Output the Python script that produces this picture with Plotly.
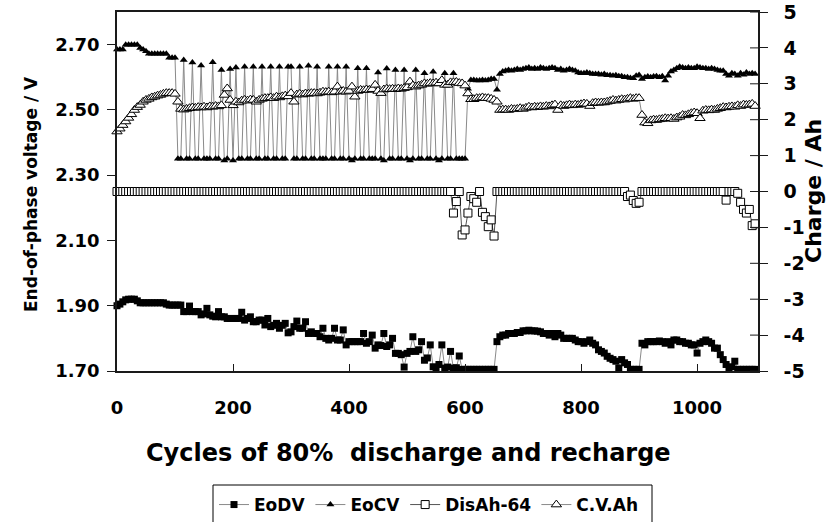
import plotly.graph_objects as go

# Cycle numbers at which the phase-end readings were logged (every 5 cycles)
cycles = list(range(0, 1101, 5))

# End-of-discharge voltage (V)
eodv = [
    1.900, 1.905, 1.912, 1.918, 1.920, 1.920, 1.920, 1.915, 1.909, 1.909,
    1.909, 1.909, 1.909, 1.909, 1.909, 1.909, 1.909, 1.905, 1.902, 1.902,
    1.902, 1.902, 1.902, 1.882, 1.882, 1.899, 1.882, 1.882, 1.882, 1.872,
    1.875, 1.892, 1.872, 1.868, 1.866, 1.882, 1.866, 1.866, 1.861, 1.861,
    1.861, 1.861, 1.861, 1.880, 1.856, 1.861, 1.866, 1.851, 1.851, 1.856,
    1.856, 1.841, 1.861, 1.836, 1.840, 1.846, 1.831, 1.840, 1.846, 1.817,
    1.820, 1.836, 1.853, 1.831, 1.831, 1.851, 1.815, 1.820, 1.815, 1.815,
    1.805, 1.831, 1.800, 1.795, 1.800, 1.831, 1.795, 1.795, 1.826, 1.780,
    1.790, 1.790, 1.790, 1.790, 1.790, 1.815, 1.785, 1.790, 1.810, 1.770,
    1.780, 1.778, 1.815, 1.775, 1.780, 1.800, 1.754, 1.754, 1.750, 1.712,
    1.754, 1.760, 1.805, 1.760, 1.765, 1.790, 1.733, 1.740, 1.780, 1.713,
    1.710, 1.720, 1.780, 1.709, 1.712, 1.760, 1.709, 1.710, 1.746, 1.705,
    1.705, 1.705, 1.705, 1.705, 1.705, 1.705, 1.705, 1.705, 1.705, 1.705,
    1.705, 1.790, 1.805, 1.810, 1.810, 1.815, 1.815, 1.815, 1.818, 1.818,
    1.823, 1.823, 1.825, 1.823, 1.823, 1.822, 1.820, 1.815, 1.815, 1.810,
    1.815, 1.805, 1.815, 1.810, 1.800, 1.800, 1.800, 1.800, 1.795, 1.790,
    1.790, 1.785, 1.790, 1.795, 1.785, 1.780, 1.765, 1.760, 1.755, 1.745,
    1.739, 1.735, 1.730, 1.709, 1.735, 1.725, 1.720, 1.705, 1.705, 1.705,
    1.705, 1.785, 1.780, 1.790, 1.790, 1.790, 1.790, 1.792, 1.790, 1.785,
    1.790, 1.780, 1.795, 1.795, 1.790, 1.790, 1.785, 1.785, 1.780, 1.780,
    1.755, 1.785, 1.790, 1.795, 1.790, 1.785, 1.770, 1.770, 1.750, 1.735,
    1.720, 1.705, 1.713, 1.730, 1.705, 1.705, 1.705, 1.705, 1.705, 1.705,
    1.705,
]

# End-of-charge voltage (V)
eocv = [
    2.685, 2.685, 2.685, 2.700, 2.700, 2.700, 2.700, 2.700, 2.690, 2.685,
    2.680, 2.672, 2.672, 2.672, 2.672, 2.672, 2.672, 2.672, 2.660, 2.660,
    2.660, 2.350, 2.350, 2.653, 2.350, 2.350, 2.645, 2.350, 2.350, 2.636,
    2.350, 2.350, 2.350, 2.646, 2.350, 2.350, 2.622, 2.345, 2.350, 2.625,
    2.345, 2.630, 2.350, 2.350, 2.632, 2.350, 2.350, 2.632, 2.350, 2.350,
    2.632, 2.350, 2.350, 2.632, 2.350, 2.350, 2.632, 2.350, 2.350, 2.632,
    2.632, 2.350, 2.350, 2.632, 2.350, 2.350, 2.635, 2.350, 2.350, 2.632,
    2.350, 2.350, 2.350, 2.632, 2.350, 2.350, 2.632, 2.350, 2.350, 2.632,
    2.350, 2.345, 2.350, 2.628, 2.350, 2.350, 2.628, 2.350, 2.350, 2.350,
    2.615, 2.350, 2.345, 2.627, 2.350, 2.350, 2.622, 2.350, 2.350, 2.622,
    2.350, 2.345, 2.350, 2.622, 2.350, 2.350, 2.612, 2.350, 2.350, 2.617,
    2.350, 2.345, 2.350, 2.612, 2.350, 2.350, 2.612, 2.350, 2.350, 2.350,
    2.350, 2.565, 2.592, 2.592, 2.590, 2.590, 2.592, 2.590, 2.592, 2.595,
    2.595, 2.562, 2.610, 2.618, 2.620, 2.622, 2.620, 2.622, 2.625, 2.622,
    2.625, 2.628, 2.630, 2.625, 2.628, 2.625, 2.630, 2.628, 2.625, 2.628,
    2.630, 2.628, 2.622, 2.625, 2.620, 2.622, 2.625, 2.622, 2.620, 2.615,
    2.612, 2.612, 2.615, 2.612, 2.610, 2.610, 2.610, 2.608, 2.610, 2.606,
    2.606, 2.605, 2.606, 2.603, 2.603, 2.600, 2.600, 2.598, 2.597, 2.605,
    2.607, 2.595, 2.600, 2.602, 2.600, 2.602, 2.603, 2.600, 2.603, 2.590,
    2.605, 2.618, 2.622, 2.628, 2.632, 2.630, 2.628, 2.630, 2.628, 2.628,
    2.632, 2.630, 2.628, 2.628, 2.625, 2.628, 2.625, 2.622, 2.620, 2.620,
    2.610, 2.605, 2.612, 2.610, 2.605, 2.612, 2.608, 2.615, 2.610, 2.612,
    2.610,
]

# Discharged charge minus 64 Ah (Ah)
disah_64 = [
    0, 0, 0, 0, 0, 0, 0, 0, 0, 0,
    0, 0, 0, 0, 0, 0, 0, 0, 0, 0,
    0, 0, 0, 0, 0, 0, 0, 0, 0, 0,
    0, 0, 0, 0, 0, 0, 0, 0, 0, 0,
    0, 0, 0, 0, 0, 0, 0, 0, 0, 0,
    0, 0, 0, 0, 0, 0, 0, 0, 0, 0,
    0, 0, 0, 0, 0, 0, 0, 0, 0, 0,
    0, 0, 0, 0, 0, 0, 0, 0, 0, 0,
    0, 0, 0, 0, 0, 0, 0, 0, 0, 0,
    0, 0, 0, 0, 0, 0, 0, 0, 0, 0,
    0, 0, 0, 0, 0, 0, 0, 0, 0, 0,
    0, 0, 0, 0, 0, 0, -0.60, -0.28, 0, -1.21,
    -1.07, -0.60, -0.14, -0.20, -0.30, 0, -0.58, -0.70, -0.98, -0.79,
    -1.24, 0, 0, 0, 0, 0, 0, 0, 0, 0,
    0, 0, 0, 0, 0, 0, 0, 0, 0, 0,
    0, 0, 0, 0, 0, 0, 0, 0, 0, 0,
    0, 0, 0, 0, 0, 0, 0, 0, 0, 0,
    0, 0, 0, 0, 0, 0, -0.14, -0.10, -0.25, -0.33,
    -0.30, 0, 0, 0, 0, 0, 0, 0, 0, 0,
    0, 0, 0, 0, 0, 0, 0, 0, 0, 0,
    0, 0, 0, 0, 0, 0, 0, 0, 0, 0,
    -0.24, 0, 0, 0, -0.05, -0.30, -0.50, -0.60, -0.50, -0.95,
    -0.90,
]

# Charge put in during the constant-voltage phase (Ah)
cv_ah = [
    1.67, 1.75, 1.85, 1.95, 2.05, 2.15, 2.27, 2.35, 2.41, 2.50,
    2.55, 2.58, 2.62, 2.64, 2.67, 2.69, 2.72, 2.74, 2.74, 2.74,
    2.72, 2.50, 2.30, 2.28, 2.30, 2.32, 2.34, 2.33, 2.35, 2.34,
    2.36, 2.34, 2.37, 2.36, 2.38, 2.37, 2.40, 2.69, 2.87, 2.55,
    2.40, 2.50, 2.48, 2.53, 2.55, 2.53, 2.56, 2.55, 2.50, 2.55,
    2.58, 2.60, 2.60, 2.62, 2.60, 2.64, 2.62, 2.65, 2.67, 2.65,
    2.74, 2.50, 2.70, 2.72, 2.70, 2.73, 2.72, 2.74, 2.74, 2.73,
    2.75, 2.78, 2.77, 2.78, 2.76, 2.78, 2.92, 2.78, 2.80, 2.78,
    2.80, 2.92, 2.64, 2.80, 2.83, 2.82, 2.84, 2.83, 2.85, 2.97,
    2.80, 2.74, 2.84, 2.86, 2.85, 2.86, 2.85, 2.87, 2.86, 2.88,
    2.90, 3.06, 2.95, 2.92, 2.95, 2.97, 3.01, 3.00, 3.02, 3.01,
    3.03, 3.01, 3.10, 2.97, 2.97, 3.04, 3.04, 3.05, 3.02, 3.01,
    2.95, 2.73, 2.57, 2.57, 2.60, 2.60, 2.62, 2.60, 2.60, 2.58,
    2.55, 2.50, 2.27, 2.28, 2.28, 2.27, 2.30, 2.29, 2.30, 2.32,
    2.30, 2.33, 2.36, 2.34, 2.36, 2.35, 2.37, 2.36, 2.38, 2.37,
    2.40, 2.42, 2.27, 2.40, 2.38, 2.40, 2.42, 2.40, 2.42, 2.41,
    2.43, 2.45, 2.44, 2.38, 2.46, 2.48, 2.47, 2.48, 2.48, 2.50,
    2.52, 2.55, 2.53, 2.55, 2.57, 2.56, 2.58, 2.60, 2.58, 2.60,
    2.60, 2.13, 1.92, 1.90, 1.98, 2.00, 1.99, 2.01, 2.02, 2.04,
    2.03, 2.04, 2.02, 2.06, 2.08, 2.13, 2.12, 2.15, 2.18, 2.20,
    2.18, 2.04, 2.25, 2.27, 2.26, 2.28, 2.27, 2.30, 2.32, 2.35,
    2.34, 2.36, 2.37, 2.36, 2.40, 2.38, 2.42, 2.41, 2.42, 2.44,
    2.38,
]

for series in (eodv, eocv, disah_64, cv_ah):
    assert len(series) == len(cycles)

cycle_ticks = [0, 200, 400, 600, 800, 1000]
volt_ticks = [1.70, 1.90, 2.10, 2.30, 2.50, 2.70]
charge_ticks = [-5, -4, -3, -2, -1, 0, 1, 2, 3, 4, 5]

FONT = "DejaVu Sans, Verdana, Arial, sans-serif"
LINK = "#8a8a8a"
AXIS = "#1a1a1a"

# Plot-area geometry in pixels (used to place paper-referenced items)
W, H = 827, 522
L, R, T, B = 117, 69, 12, 151
PW, PH = W - L - R, H - T - B


def px_x(px):
    return (px - L) / PW


def px_y(py):
    return (H - B - py) / PH


fig = go.Figure()

fig.add_trace(go.Scatter(
    x=cycles, y=eodv, name="EoDV", mode="lines+markers", yaxis="y",
    line=dict(color=LINK, width=1),
    marker=dict(symbol="square", size=7, color="black"),
    cliponaxis=False,
))
fig.add_trace(go.Scatter(
    x=cycles, y=eocv, name="EoCV", mode="lines+markers", yaxis="y",
    line=dict(color=LINK, width=1),
    marker=dict(symbol="triangle-up", size=7, color="black"),
    cliponaxis=False,
))
fig.add_trace(go.Scatter(
    x=cycles, y=disah_64, name="DisAh-64", mode="lines+markers", yaxis="y2",
    line=dict(color="#555555", width=1),
    marker=dict(symbol="square", size=8, color="white",
                line=dict(color="black", width=1)),
    cliponaxis=False,
))
fig.add_trace(go.Scatter(
    x=cycles, y=cv_ah, name="C.V.Ah", mode="lines+markers", yaxis="y2",
    line=dict(color=LINK, width=1),
    marker=dict(symbol="triangle-up", size=9, color="white",
                line=dict(color="black", width=1)),
    cliponaxis=False,
))

bold = dict(family=FONT, color="black", weight="bold")

fig.update_layout(
    width=W, height=H,
    margin=dict(l=L, r=R, t=T, b=B, autoexpand=False),
    paper_bgcolor="white", plot_bgcolor="white",
    font=dict(family=FONT, color="black"),
    showlegend=True,
    legend=dict(
        orientation="h", x=px_x(214), xanchor="left",
        y=px_y(505), yanchor="middle",
        bgcolor="rgba(0,0,0,0)", borderwidth=0,
        font=dict(size=17, **bold),
        traceorder="normal", itemwidth=30,
    ),
    xaxis=dict(
        range=[0, 1105], tickvals=cycle_ticks,
        ticktext=[str(c) for c in cycle_ticks],
        ticks="inside", ticklen=7, tickwidth=1, tickcolor=AXIS,
        ticklabelstandoff=20,
        showline=True, linecolor=AXIS, linewidth=1.5, mirror=True,
        showgrid=False, zeroline=False,
        tickfont=dict(size=18, **bold),
    ),
    yaxis=dict(
        range=[1.70, 2.80], tickvals=volt_ticks,
        ticktext=[f"{v:.2f}" for v in volt_ticks],
        ticks="outside", ticklen=8, tickwidth=1, tickcolor=AXIS,
        ticklabelstandoff=4,
        showline=True, linecolor=AXIS, linewidth=1.5,
        showgrid=False, zeroline=False,
        tickfont=dict(size=18, **bold),
    ),
    yaxis2=dict(
        range=[-5, 5], tickvals=charge_ticks,
        ticktext=[str(c) for c in charge_ticks],
        overlaying="y", side="right", anchor="x",
        ticks="outside", ticklen=8, tickwidth=1, tickcolor=AXIS,
        ticklabelstandoff=12,
        showline=True, linecolor=AXIS, linewidth=1.5,
        showgrid=False, zeroline=False,
        tickfont=dict(size=19, **bold),
    ),
)

# Inner half of the right-hand ticks, so they cross the axis line
for c in charge_ticks:
    fig.add_shape(type="line", xref="paper", yref="y2",
                  x0=1 - 8 / PW, x1=1, y0=c, y1=c,
                  line=dict(color=AXIS, width=1))

# Axis titles
fig.add_annotation(text="End-of-phase voltage / V", xref="paper", yref="paper",
                   x=px_x(31), y=px_y(194), xanchor="center", yanchor="middle",
                   textangle=-90, showarrow=False,
                   font=dict(size=17, **bold))
fig.add_annotation(text="Charge / Ah", xref="paper", yref="paper",
                   x=px_x(813), y=px_y(191), xanchor="center", yanchor="middle",
                   textangle=-90, showarrow=False,
                   font=dict(size=22, **bold))
fig.add_annotation(text="Cycles of 80%  discharge and recharge",
                   xref="paper", yref="paper",
                   x=px_x(408), y=px_y(453), xanchor="center", yanchor="middle",
                   showarrow=False,
                   font=dict(size=24, **bold))

# Frame around the legend
fig.add_shape(type="rect", xref="paper", yref="paper",
              x0=px_x(213), x1=px_x(652), y0=px_y(485), y1=px_y(535),
              line=dict(color="black", width=1), fillcolor="rgba(0,0,0,0)")

fig.write_html("out.html")
